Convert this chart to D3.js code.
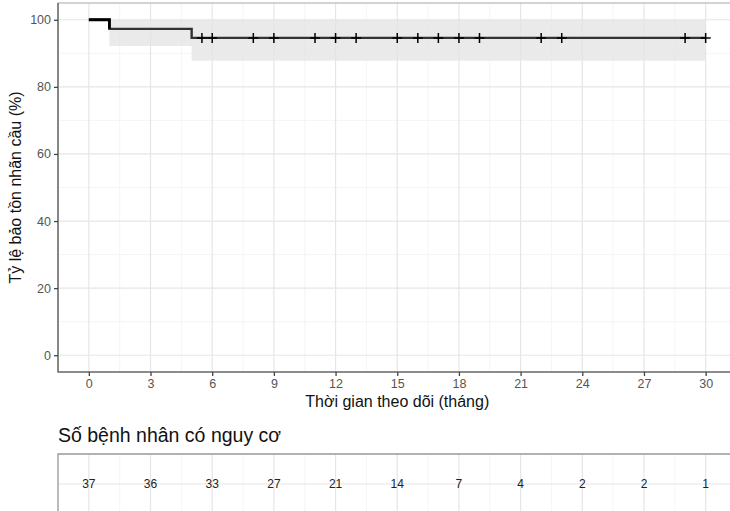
<!DOCTYPE html>
<html>
<head>
<meta charset="utf-8">
<script src="https://cdn.jsdelivr.net/npm/d3@7"></script>
<style>
  body { margin: 0; background: #fff; }
  svg { display: block; font-family: "Liberation Sans", Arial, sans-serif; }
</style>
</head>
<body>
<div id="chart"></div>
<script>
// Survival steps (time in months, percent)
const stepTimes = [0, 1, 5];
const survival = [100, 97.3, 94.6];
const ciLower = [100, 92.2, 87.8];
const ciUpper = [100, 100, 100];
const endTime = 30;

// Censored observations
const censorTimes = [5.5, 6, 8, 9, 11, 12, 13, 15, 16, 17, 18, 19, 22, 23, 29, 30];

// Number at risk table
const riskTimes = [0, 3, 6, 9, 12, 15, 18, 21, 24, 27, 30];
const riskCounts = [37, 36, 33, 27, 21, 14, 7, 4, 2, 2, 1];

const yTicks = [0, 20, 40, 60, 80, 100];

const W = 730, H = 511;
const panel = { left: 58, right: 736.5, top: 3, bottom: 372 };
const table = { top: 454, bottom: 516 };

const svg = d3.select("#chart").append("svg")
  .attr("width", W)
  .attr("height", H);

const x = d3.scaleLinear().domain([-1.5, 31.5]).range([panel.left, panel.right]);
const y = d3.scaleLinear().domain([-5, 105]).range([panel.bottom, panel.top]);

// Grid lines - main panel
const grid = svg.append("g");
const xMinor = d3.range(-1.5, 32, 1.5).filter(v => !riskTimes.includes(v));
const yMinor = [10, 30, 50, 70, 90];

grid.selectAll("line.xminor").data(xMinor).join("line")
  .attr("x1", d => x(d)).attr("x2", d => x(d))
  .attr("y1", panel.top).attr("y2", panel.bottom)
  .attr("stroke", "#f2f2f2").attr("stroke-width", 0.8);
grid.selectAll("line.yminor").data(yMinor).join("line")
  .attr("x1", panel.left).attr("x2", panel.right)
  .attr("y1", d => y(d)).attr("y2", d => y(d))
  .attr("stroke", "#f2f2f2").attr("stroke-width", 0.8);
grid.selectAll("line.xmajor").data(riskTimes).join("line")
  .attr("x1", d => x(d)).attr("x2", d => x(d))
  .attr("y1", panel.top).attr("y2", panel.bottom)
  .attr("stroke", "#e6e6e6").attr("stroke-width", 1.2);
grid.selectAll("line.ymajor").data(yTicks).join("line")
  .attr("x1", panel.left).attr("x2", panel.right)
  .attr("y1", d => y(d)).attr("y2", d => y(d))
  .attr("stroke", "#e6e6e6").attr("stroke-width", 1.2);

// Survival data points (step after)
const pts = stepTimes.map((t, i) => ({ t, s: survival[i], lo: ciLower[i], hi: ciUpper[i] }));
pts.push({ t: endTime, s: survival[survival.length - 1], lo: ciLower[ciLower.length - 1], hi: ciUpper[ciUpper.length - 1] });

// Confidence band
const area = d3.area()
  .curve(d3.curveStepAfter)
  .x(d => x(d.t))
  .y0(d => y(d.lo))
  .y1(d => y(d.hi));
svg.append("path")
  .attr("d", area(pts))
  .attr("fill", "#e3e3e3")
  .attr("fill-opacity", 0.75);

// Survival curve
const line = d3.line()
  .curve(d3.curveStepAfter)
  .x(d => x(d.t))
  .y(d => y(d.s));
svg.append("path")
  .attr("d", line(pts))
  .attr("fill", "none")
  .attr("stroke", "#333")
  .attr("stroke-width", 2.4);
// first segment looks darker
svg.append("path")
  .attr("d", line(pts.slice(0, 2)).split("V")[0])
  .attr("fill", "none")
  .attr("stroke", "#000")
  .attr("stroke-width", 2.8);

// Censor marks
const cs = 5;
svg.append("g").selectAll("path").data(censorTimes).join("path")
  .attr("d", d => {
    const cx = x(d), cy = y(survival[survival.length - 1]);
    return `M${cx - cs},${cy}H${cx + cs}M${cx},${cy - cs}V${cy + cs}`;
  })
  .attr("stroke", "#000")
  .attr("stroke-width", 1.5);

// Panel border
svg.append("path")
  .attr("d", `M${panel.left},${panel.bottom}V${panel.top}H${panel.right}`)
  .attr("fill", "none").attr("stroke", "#a8a8a8").attr("stroke-width", 1.2);
svg.append("path")
  .attr("d", `M${panel.left},${panel.top}V${panel.bottom}H${panel.right}`)
  .attr("fill", "none").attr("stroke", "#666").attr("stroke-width", 1.3);

// Axes
const xAxis = svg.append("g")
  .attr("transform", `translate(0,${panel.bottom})`)
  .call(d3.axisBottom(x).tickValues(riskTimes).tickSize(4).tickPadding(3));
const yAxis = svg.append("g")
  .attr("transform", `translate(${panel.left},0)`)
  .call(d3.axisLeft(y).tickValues(yTicks).tickSize(4).tickPadding(3));
[xAxis, yAxis].forEach(a => {
  a.select(".domain").remove();
  a.selectAll(".tick line").attr("stroke", "#444").attr("stroke-width", 1.3);
  a.selectAll(".tick text")
    .attr("fill", "#555")
    .style("font-size", "12.5px")
    .style("font-family", "Liberation Sans, Arial, sans-serif");
});

// Axis titles
svg.append("text")
  .attr("x", (panel.left + panel.right) / 2)
  .attr("y", 407)
  .attr("text-anchor", "middle")
  .style("font-size", "16px")
  .attr("fill", "#111")
  .text("Thời gian theo dõi (tháng)");
svg.append("text")
  .attr("transform", `translate(21,${(panel.top + panel.bottom) / 2}) rotate(-90)`)
  .attr("text-anchor", "middle")
  .style("font-size", "16px")
  .attr("fill", "#111")
  .text("Tỷ lệ bảo tồn nhãn cầu (%)");

// Risk table
svg.append("text")
  .attr("x", panel.left)
  .attr("y", 442)
  .style("font-size", "19.5px")
  .attr("fill", "#111")
  .text("Số bệnh nhân có nguy cơ");

const tg = svg.append("g");
const rowY = 484;
tg.selectAll("line.xminor").data(xMinor).join("line")
  .attr("x1", d => x(d)).attr("x2", d => x(d))
  .attr("y1", table.top).attr("y2", table.bottom)
  .attr("stroke", "#f2f2f2").attr("stroke-width", 0.8);
tg.selectAll("line.xmajor").data(riskTimes).join("line")
  .attr("x1", d => x(d)).attr("x2", d => x(d))
  .attr("y1", table.top).attr("y2", table.bottom)
  .attr("stroke", "#e6e6e6").attr("stroke-width", 1.2);
tg.append("line")
  .attr("x1", panel.left).attr("x2", panel.right)
  .attr("y1", rowY).attr("y2", rowY)
  .attr("stroke", "#e6e6e6").attr("stroke-width", 1.2);
tg.append("path")
  .attr("d", `M${panel.left},${table.bottom}V${table.top}H${panel.right}`)
  .attr("fill", "none").attr("stroke", "#999").attr("stroke-width", 1.3);

tg.selectAll("text.risk").data(riskTimes).join("text")
  .attr("x", d => x(d))
  .attr("y", rowY)
  .attr("dy", "0.35em")
  .attr("text-anchor", "middle")
  .style("font-size", "12px")
  .attr("fill", "#222")
  .text((d, i) => riskCounts[i]);
</script>
</body>
</html>
